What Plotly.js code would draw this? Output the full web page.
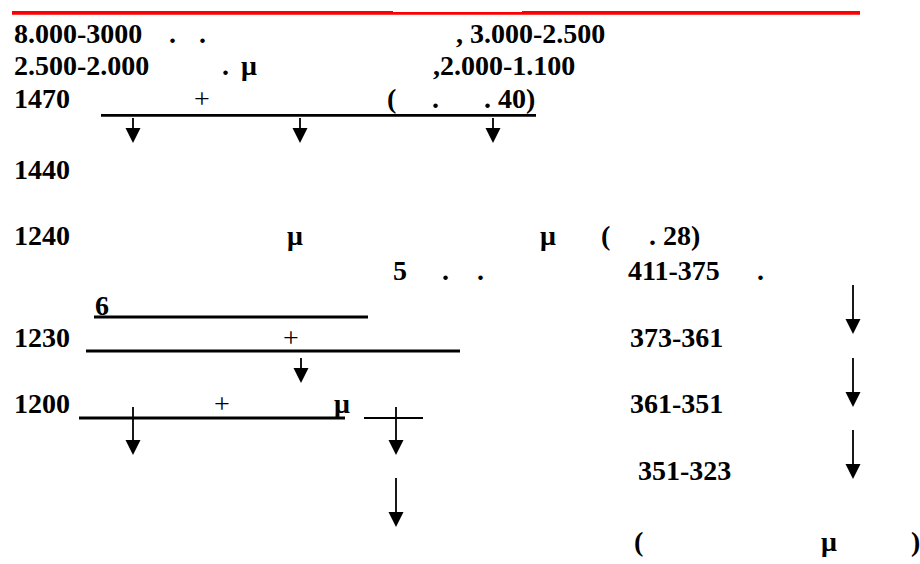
<!DOCTYPE html>
<html>
<head>
<meta charset="utf-8">
<script src="https://cdn.plot.ly/plotly-3.0.1.min.js"></script>
<style>html,body{margin:0;padding:0;background:#fff;}#chart{width:920px;height:564px;}</style>
</head>
<body>
<div id="chart"></div>
<script>
// ---- content (texts) ----
const levelLabels = ['1470', '1440', '1240', '1230', '1200'];
const topRanges = ['8.000-3000', ', 3.000-2.500', '2.500-2.000', ',2.000-1.100'];
const rightRanges = ['411-375', '373-361', '361-351', '351-323'];
const refTexts = ['. 40)', '. 28)'];
const symbols = ['+', 'μ', '(', ')', '.', '5', '6'];

// ---- placement (left x, baseline y, size/weight) ----
const F = 28;
const textItems = [
  // row 1
  [topRanges[0], 13, 43, 'l'], [symbols[4], 172, 43, 'c'], [symbols[4], 202, 43, 'c'], [topRanges[1], 455, 43, 'l'],
  // row 2
  [topRanges[2], 13, 75, 'l'], [symbols[4], 225, 75, 'c'], [symbols[1], 240, 75, 'l'], [topRanges[3], 432, 75, 'l'],
  // row 3
  [levelLabels[0], 13, 108, 'l'], [symbols[0], 202, 108, 'c', 'normal'], [symbols[2], 386, 108, 'l'], [symbols[4], 435, 108, 'c'], [refTexts[0], 483, 108, 'l'],
  // 1440
  [levelLabels[1], 13, 179, 'l'],
  // 1240
  [levelLabels[2], 13, 245, 'l'], [symbols[1], 286, 245, 'l'], [symbols[1], 539, 245, 'l'], [symbols[2], 600, 245, 'l'], [refTexts[1], 648, 245, 'l'],
  // 5 . . 411-375 .
  [symbols[5], 392, 280, 'l'], [symbols[4], 445, 280, 'c'], [symbols[4], 480, 280, 'c'], [rightRanges[0], 627, 280, 'l'], [symbols[4], 760, 280, 'c'],
  // 6
  [symbols[6], 94, 315, 'l'],
  // 1230
  [levelLabels[3], 13, 347, 'l'], [symbols[0], 291, 347, 'c', 'normal'], [rightRanges[1], 629, 347, 'l'],
  // 1200
  [levelLabels[4], 13, 413, 'l'], [symbols[0], 222, 413, 'c', 'normal'], [symbols[1], 333, 413, 'l'], [rightRanges[2], 629, 413, 'l'],
  // 351-323
  [rightRanges[3], 637, 480, 'l'],
  // bottom
  [symbols[2], 633, 551, 'l'], [symbols[1], 820, 551, 'l'], [symbols[3], 910, 551, 'l']
];

const annotations = textItems.map(function (t) {
  const bold = t[4] !== 'normal';
  return {
    xref: 'x', yref: 'y', x: t[1], y: t[2] - 0.3375 * F,
    xanchor: t[3] === 'l' ? 'left' : 'center', yanchor: 'middle',
    text: bold ? '<b>' + t[0] + '</b>' : t[0],
    showarrow: false, borderpad: 0,
    font: {family: 'Liberation Serif, Times New Roman, serif', size: F, color: '#000000'}
  };
});

// lines: [x0, x1, y, width, color]
const lines = [
  [12, 393, 12.8, 3.7, '#ff0000'], [393, 522, 13.3, 2.7, '#ff0000'], [522, 860, 12.8, 3.7, '#ff0000'],
  [101, 536, 115.3, 2.8, '#000'],
  [94, 368, 317, 2.8, '#000'],
  [86, 460, 351, 2.8, '#000'],
  [79, 345, 418, 2.8, '#000'],
  [364, 423, 418, 2.2, '#000']
];
// arrows: [x, yTop, yTip]
const arrows = [
  [133, 118, 143], [300, 118, 143], [493, 118, 143],
  [301, 358, 383],
  [133, 407, 455], [396, 407, 455], [396, 478, 527],
  [853, 285, 334], [853, 358, 407], [853, 430, 479]
];

const shapes = [];
lines.forEach(function (l) {
  shapes.push({type: 'line', xref: 'x', yref: 'y', x0: l[0], x1: l[1], y0: l[2], y1: l[2], line: {color: l[4], width: l[3]}});
});
arrows.forEach(function (a) {
  const hw = 7.5, hh = 15;
  shapes.push({type: 'line', xref: 'x', yref: 'y', x0: a[0], x1: a[0], y0: a[1], y1: a[2] - hh + 1, line: {color: '#000', width: 1.8}});
  shapes.push({type: 'path', xref: 'x', yref: 'y',
    path: 'M ' + (a[0] - hw) + ',' + (a[2] - hh) + ' L ' + (a[0] + hw) + ',' + (a[2] - hh) + ' L ' + a[0] + ',' + a[2] + ' Z',
    fillcolor: '#000', line: {color: '#000', width: 0}});
});

const layout = {
  width: 920, height: 564,
  margin: {l: 0, r: 0, t: 0, b: 0},
  paper_bgcolor: '#fff', plot_bgcolor: '#fff',
  showlegend: false,
  xaxis: {range: [0, 920], visible: false, fixedrange: true},
  yaxis: {range: [564, 0], visible: false, fixedrange: true},
  annotations: annotations,
  shapes: shapes
};

Plotly.newPlot('chart', [{x: [], y: [], type: 'scatter', mode: 'markers', hoverinfo: 'skip'}], layout, {staticPlot: true, displayModeBar: false});
</script>
</body>
</html>
